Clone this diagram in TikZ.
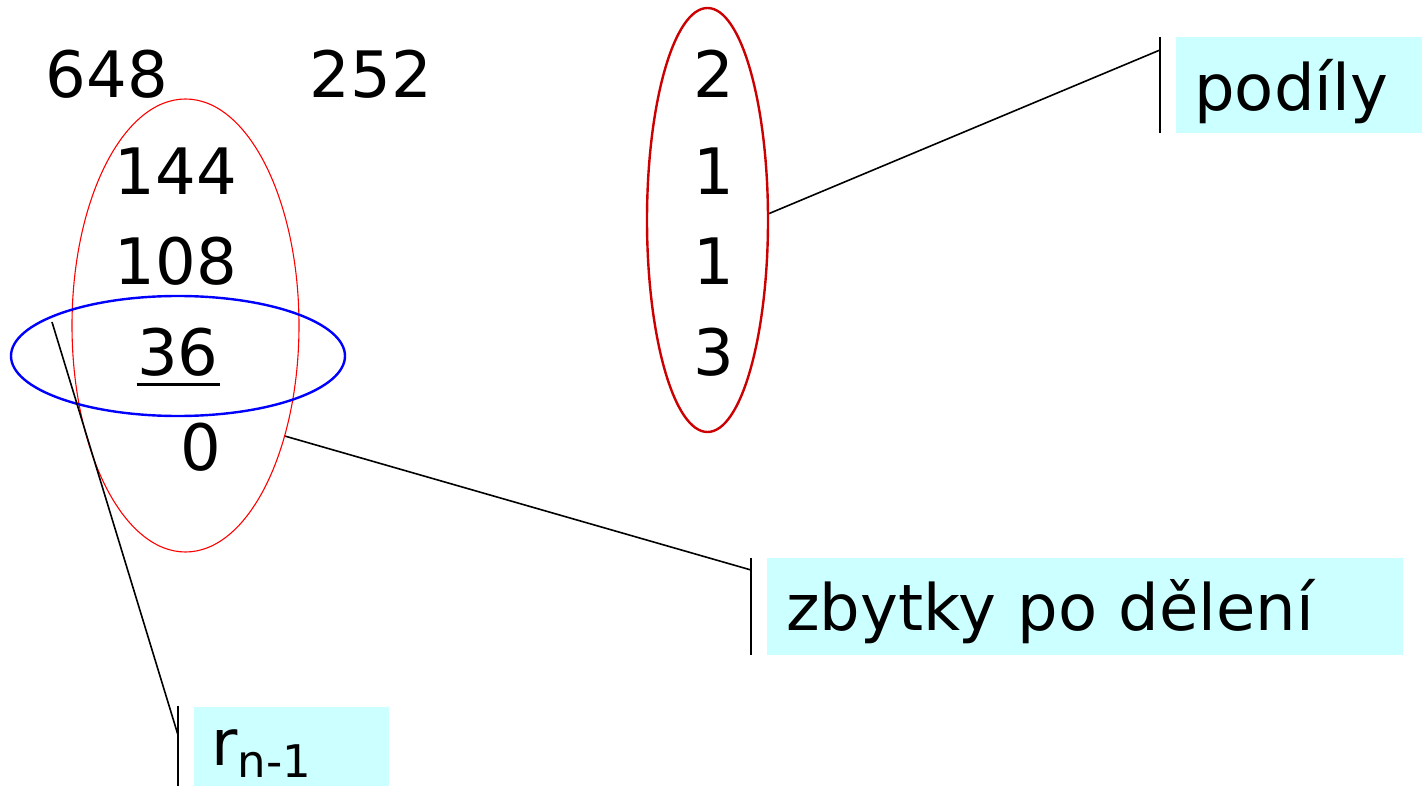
\documentclass[tikz,border=0pt]{standalone}
\usepackage{fontspec}
\setmainfont{DejaVu Sans}
\usetikzlibrary{shapes.geometric,calc}
\definecolor{labelfill}{HTML}{CCFFFF}
\definecolor{quotred}{HTML}{CC0000}
\begin{document}
\begin{tikzpicture}[x=1pt,y=-1pt,
  num/.style={anchor=base,inner sep=0pt,font=\fontsize{64}{77}\selectfont},
  ring/.style={ellipse,draw,inner sep=0pt},
  tag/.style={anchor=north west,fill=labelfill,inner ysep=0pt,align=left,
              font=\fontsize{64}{77}\selectfont},
  bar/.style={line width=2pt},
  leader/.style={line width=1.6pt}]
\useasboundingbox (0,0) rectangle (1422,786);

% groupings
\node[ring,draw=red,line width=1.1pt,minimum width=227,minimum height=453] (rem) at (185.5,325.5) {};
\node[ring,draw=blue,line width=2.4pt,minimum width=334,minimum height=120] (last) at (178,356) {};
\node[ring,draw=quotred,line width=2.4pt,minimum width=121,minimum height=424] (quot) at (707.5,220) {};

% Euclid's algorithm: dividend, divisor, remainders
\node[num] (a) at (107,98) {648};
\node[num] (b) at (371,98) {252};
\node[num] (r1) at (176,195) {144};
\node[num] (r2) at (176,285) {108};
\node[num] (r3) at (178,375) {36};
\node[num] (r4) at (201,470) {0};
\draw[line width=3pt] ($(r3.base)+(-41.5,9)$) -- ($(r3.base)+(41.5,9)$);

% quotients
\node[num] (q1) at (714,98) {2};
\node[num] (q2) at (714,195) {1};
\node[num] (q3) at (714,285) {1};
\node[num] (q4) at (714,375) {3};

% labels
\node[tag,inner xsep=18pt,text width=210pt,text height=73pt,text depth=23pt] (tq) at (1176,37) {podíly};
\node[tag,inner xsep=19pt,text width=598pt,text height=72pt,text depth=25pt] (tr) at (767,558) {zbytky po dělení};
\node[tag,inner xsep=17pt,text width=161pt,text height=58pt,text depth=21pt] (tn) at (194,707)
  {r\raisebox{-12pt}{\fontsize{45}{54}\selectfont n-1}};

% callout bars
\draw[bar] ($(tq.north west)+(-16,0)$) coordinate (bq1) -- ($(tq.south west)+(-16,0)$) coordinate (bq2);
\draw[bar] ($(tr.north west)+(-16,0)$) coordinate (br1) -- ($(tr.south west)+(-16,0)$) coordinate (br2);
\draw[bar] ($(tn.north west)+(-16,-1)$) coordinate (bn1) -- ($(tn.south west)+(-16,0)$) coordinate (bn2);

% leader lines
\coordinate (qend) at ($(bq1)+(0,13)$);
\coordinate (rend) at ($(br1)+(0,12)$);
\coordinate (nend) at ($(bn1)+(0,29)$);
\coordinate (nstart) at (52,322);
\draw[leader] (quot.6) -- (qend);
\draw[leader] (rem.-48) -- (rend);
\draw[leader] (nstart) -- (nend);
\end{tikzpicture}
\end{document}
